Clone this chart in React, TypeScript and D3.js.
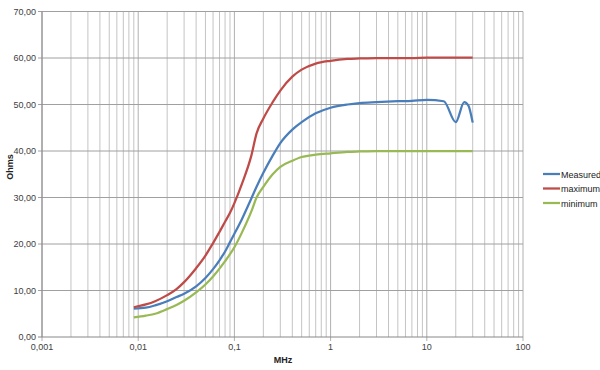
import React from "react";
import * as d3 from "d3";

const freqs = [0.009, 0.012, 0.015, 0.02, 0.025, 0.03, 0.04, 0.05, 0.06, 0.07, 0.08, 0.09, 0.1, 0.12, 0.15, 0.17, 0.2, 0.25, 0.3, 0.4, 0.5, 0.7, 1, 1.5, 2, 3, 5, 7, 10, 15, 20, 24.5, 27, 30];
const measured = [6.1, 6.3, 6.8, 7.7, 8.6, 9.3, 10.9, 12.7, 14.6, 16.5, 18.4, 20.4, 22.2, 25.4, 29.8, 32.3, 35.3, 39.0, 41.7, 44.6, 46.2, 48.1, 49.3, 50.0, 50.3, 50.5, 50.7, 50.8, 51.0, 50.7, 46.2, 50.5, 49.8, 46.1];
const maximum = [6.4, 7.0, 7.7, 9.0, 10.3, 11.8, 14.8, 17.5, 20.2, 22.6, 24.8, 26.7, 28.8, 33.0, 39.0, 43.8, 47.0, 50.5, 53.0, 56.0, 57.5, 58.8, 59.4, 59.8, 59.9, 60.0, 60.0, 60.0, 60.1, 60.1, 60.1, 60.1, 60.1, 60.1];
const minimum = [4.2, 4.6, 5.0, 6.0, 6.9, 7.8, 9.6, 11.3, 13.0, 14.7, 16.3, 17.8, 19.3, 22.5, 27.0, 30.0, 32.3, 35.0, 36.6, 37.9, 38.7, 39.2, 39.5, 39.8, 39.9, 40.0, 40.0, 40.0, 40.0, 40.0, 40.0, 40.0, 40.0, 40.0];

const seriesNames = ["Measured", "maximum", "minimum"];
const seriesColors = ["#4a7ebb", "#be4b48", "#98b954"];
const seriesValues = [measured, maximum, minimum];

const xTicks = [0.001, 0.01, 0.1, 1, 10, 100];
const xTickLabels = ["0,001", "0,01", "0,1", "1", "10", "100"];
const yTicks = [0, 10, 20, 30, 40, 50, 60, 70];

export default function App() {
  const W = 600, H = 370;
  const left = 42, right = 523, top = 11.5, bottom = 337;
  const x = d3.scaleLog().domain([0.001, 100]).range([left, right]);
  const y = d3.scaleLinear().domain([0, 70]).range([bottom, top]);

  const minorX: number[] = [];
  for (let e = -3; e < 2; e++) {
    for (let m = 2; m <= 9; m++) minorX.push(m * Math.pow(10, e));
  }
  const line = d3
    .line<[number, number]>()
    .x((d) => x(d[0]))
    .y((d) => y(d[1]))
    .curve(d3.curveMonotoneX);

  const font = "'Liberation Sans', Arial, sans-serif";

  return (
    <svg width={W} height={H} style={{ position: "absolute", left: 0, top: 0, background: "#fff" }} fontFamily={font}>
      {minorX.map((v, i) => (
        <line key={"mx" + i} x1={x(v)} x2={x(v)} y1={top} y2={bottom} stroke="#c4c4c4" strokeWidth={1} />
      ))}
      {xTicks.map((v, i) => (
        <line key={"Mx" + i} x1={x(v)} x2={x(v)} y1={top} y2={bottom + 4} stroke="#b0b0b0" strokeWidth={1} />
      ))}
      {yTicks.map((v, i) => (
        <line key={"gy" + i} x1={left - 4} x2={right} y1={y(v)} y2={y(v)} stroke={v === 0 ? "#888" : "#a0a0a0"} strokeWidth={1} />
      ))}
      <line x1={left} x2={left} y1={top} y2={bottom} stroke="#888" />
      {yTicks.map((v, i) => (
        <text key={"yl" + i} x={36} y={y(v) + 3} textAnchor="end" fontSize={9} fill="#404040">
          {v.toFixed(2).replace(".", ",")}
        </text>
      ))}
      {xTicks.map((v, i) => (
        <text key={"xl" + i} x={x(v)} y={350} textAnchor="middle" fontSize={9} fill="#404040">
          {xTickLabels[i]}
        </text>
      ))}
      <text x={283} y={363} textAnchor="middle" fontSize={9} fontWeight="bold" fill="#222">MHz</text>
      <text transform="translate(13,167) rotate(-90)" textAnchor="middle" fontSize={9} fontWeight="bold" fill="#222">Ohms</text>
      {seriesValues.map((vals, si) => (
        <path
          key={"s" + si}
          d={line(freqs.map((f, i) => [f, vals[i]] as [number, number])) || ""}
          fill="none"
          stroke={seriesColors[si]}
          strokeWidth={2.25}
          strokeLinejoin="round"
        />
      ))}
      {seriesNames.map((n, i) => (
        <g key={"lg" + i} transform={`translate(543,${174 + i * 14.5})`}>
          <line x1={0} x2={17} y1={0} y2={0} stroke={seriesColors[i]} strokeWidth={2.25} />
          <text x={18} y={3.5} fontSize={9} fill="#222">{n}</text>
        </g>
      ))}
    </svg>
  );
}
